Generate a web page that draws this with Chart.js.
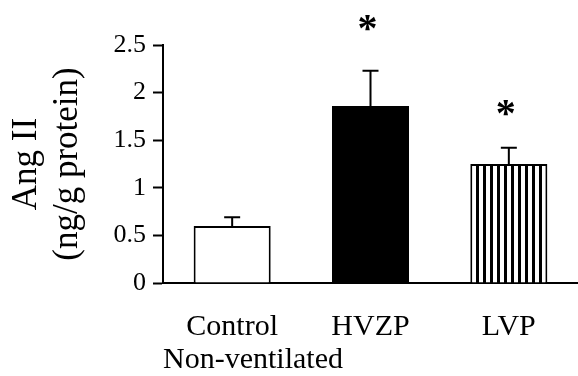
<!DOCTYPE html>
<html>
<head>
<meta charset="utf-8">
<script src="https://cdn.jsdelivr.net/npm/chart.js@4.4.0/dist/chart.umd.min.js"></script>
<style>
  html, body { margin: 0; padding: 0; background: #fff; }
  #wrap { width: 578px; height: 376px; }
</style>
</head>
<body>
<div id="wrap"><canvas id="myChart"></canvas></div>
<script>
"use strict";

// values
var groups = ['Control', 'HVZP', 'LVP'];
var angII = [0.60, 1.86, 1.25];
var angErr = [0.09, 0.37, 0.17];
var starAt = [null, 2.73, 1.84]; // where the * sits, in ng/g protein
var yTicks = [0, 0.5, 1, 1.5, 2, 2.5];

var serif = 'Liberation Serif';

function stripes() {
  var c = document.createElement('canvas');
  c.width = 7;
  c.height = 4;
  var g = c.getContext('2d');
  g.fillStyle = '#fff';
  g.fillRect(0, 0, 7, 4);
  g.fillStyle = '#000';
  g.fillRect(0, 0, 3, 4);
  return g.createPattern(c, 'repeat');
}

//error bars and the significance stars
var extras = {
  id: 'extras',
  afterDatasetsDraw: function(chart) {
    var ctx = chart.ctx;
    var y = chart.scales.y;
    var bars = chart.getDatasetMeta(0).data;
    ctx.save();
    ctx.strokeStyle = '#000';
    ctx.lineWidth = 2;
    for (var i = 0; i < bars.length; i++) {
      var x = bars[i].x;
      var top = y.getPixelForValue(angII[i]);
      var hi = y.getPixelForValue(angII[i] + angErr[i]);
      ctx.beginPath();
      ctx.moveTo(x, top);
      ctx.lineTo(x, hi);
      ctx.moveTo(x - 8, hi);
      ctx.lineTo(x + 8, hi);
      ctx.stroke();

      if (starAt[i] !== null) {
        ctx.font = 'bold 40px "' + serif + '"';
        ctx.fillStyle = '#000';
        ctx.textAlign = 'center';
        ctx.textBaseline = 'alphabetic';
        var m = ctx.measureText('*');
        var cy = y.getPixelForValue(starAt[i]);
        ctx.fillText('*', x - 3, cy + (m.actualBoundingBoxAscent - m.actualBoundingBoxDescent) / 2);
      }
    }
    ctx.restore();
  }
};

var ctx = document.getElementById('myChart').getContext('2d');
var chart = new Chart(ctx, {
  type: 'bar',
  data: {
    labels: groups,
    datasets: [{
      data: angII,
      backgroundColor: ['#fff', '#000', stripes()],
      borderColor: '#000',
      borderWidth: 2,
      borderSkipped: 'start',
      categoryPercentage: 1,
      barPercentage: 0.557
    }]
  },
  options: {
    responsive: true,
    maintainAspectRatio: false,
    animation: false,
    layout: { padding: { top: 45, right: 0, left: 0, bottom: 0 } },
    plugins: {
      legend: { display: false },
      tooltip: { enabled: false }
    },
    scales: {
      x: {
        grid: { display: false, drawTicks: false },
        border: { display: true, color: '#000', width: 2 },
        ticks: {
          color: '#000',
          padding: 26,
          font: { family: serif, size: 30 }
        },
        title: {
          display: true,
          text: 'Non-ventilated',
          align: 'start',
          color: '#000',
          font: { family: serif, size: 30, lineHeight: 1 },
          padding: { top: 0, bottom: 1 }
        },
        afterFit: function(scale) { scale.height = 93; }
      },
      y: {
        min: 0,
        max: 2.5,
        afterBuildTicks: function(scale) {
          scale.ticks = yTicks.map(function(v) { return { value: v }; });
        },
        grid: {
          drawOnChartArea: false,
          drawTicks: true,
          tickLength: 10,
          tickWidth: 2,
          tickColor: '#000'
        },
        border: { display: true, color: '#000', width: 2 },
        ticks: {
          color: '#000',
          padding: 7,
          font: { family: serif, size: 26 },
          callback: function(v) { return String(v); }
        },
        title: {
          display: true,
          text: ['Ang II', '(ng/g protein)'],
          color: '#000',
          font: { family: serif, size: 35, lineHeight: 1.17 },
          padding: { top: 6, bottom: 0 }
        },
        afterFit: function(scale) { scale.width = 163; }
      }
    }
  },
  plugins: [extras]
});
</script>
</body>
</html>
